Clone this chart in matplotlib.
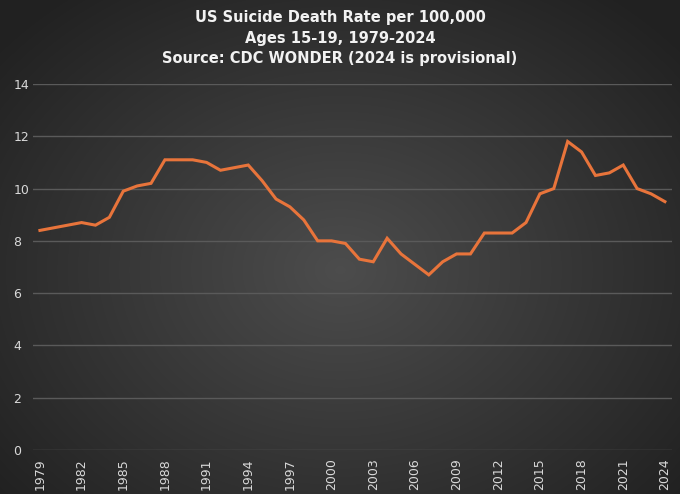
import numpy as np
import matplotlib.pyplot as plt

years = list(range(1979, 2025))
rates = [8.4, 8.5, 8.6, 8.7, 8.6, 8.9, 9.9, 10.1, 10.2, 11.1,
         11.1, 11.1, 11.0, 10.7, 10.8, 10.9, 10.3, 9.6, 9.3, 8.8,
         8.0, 8.0, 7.9, 7.3, 7.2, 8.1, 7.5, 7.1, 6.7, 7.2,
         7.5, 7.5, 8.3, 8.3, 8.3, 8.7, 9.8, 10.0, 11.8, 11.4,
         10.5, 10.6, 10.9, 10.0, 9.8, 9.5]
tick_years = list(range(1979, 2025, 3))
y_ticks = [0, 2, 4, 6, 8, 10, 12, 14]

fig = plt.figure(figsize=(6.8, 4.94), dpi=100)

# radial gradient background
bg = fig.add_axes([0, 0, 1, 1], zorder=0)
yy, xx = np.mgrid[0:494, 0:680]
r = np.sqrt(((xx - 340) / 420.0) ** 2 + ((yy - 270) / 330.0) ** 2)
shade = np.clip(0.30 - 0.16 * r, 0.13, 0.30)
bg.imshow(np.dstack([shade, shade, shade]), aspect='auto', extent=[0, 1, 0, 1])
bg.axis('off')

ax = fig.add_axes([0.0485, 0.089, 0.9395, 0.741], zorder=1)
ax.patch.set_alpha(0)
x = np.arange(len(years))
ax.plot(x, rates, color='#E8743B', linewidth=2.2, solid_joinstyle='miter')

ax.set_xlim(-0.5, len(years) - 0.5)
ax.set_ylim(0, 14)
ax.set_yticks(y_ticks)
ax.set_xticks([years.index(y) for y in tick_years])
ax.set_xticklabels([str(y) for y in tick_years], rotation=90)
ax.grid(axis='y', color='#5a5a5a', linewidth=1)
ax.set_axisbelow(True)
for s in ax.spines.values():
    s.set_visible(False)
ax.tick_params(length=0, colors='#d9d9d9', labelsize=9)
ax.tick_params(axis='y', pad=14)
for lab in ax.get_yticklabels():
    lab.set_horizontalalignment('left')
ax.tick_params(axis='x', pad=6)

fig.text(0.5, 0.965, 'US Suicide Death Rate per 100,000', ha='center', va='center',
         color='#f2f2f2', fontsize=10.5, fontweight='bold')
fig.text(0.5, 0.923, 'Ages 15-19, 1979-2024', ha='center', va='center',
         color='#f2f2f2', fontsize=10.5, fontweight='bold')
fig.text(0.5, 0.881, 'Source: CDC WONDER (2024 is provisional)', ha='center', va='center',
         color='#f2f2f2', fontsize=10.5, fontweight='bold')

fig.savefig('out.png', dpi=100)
